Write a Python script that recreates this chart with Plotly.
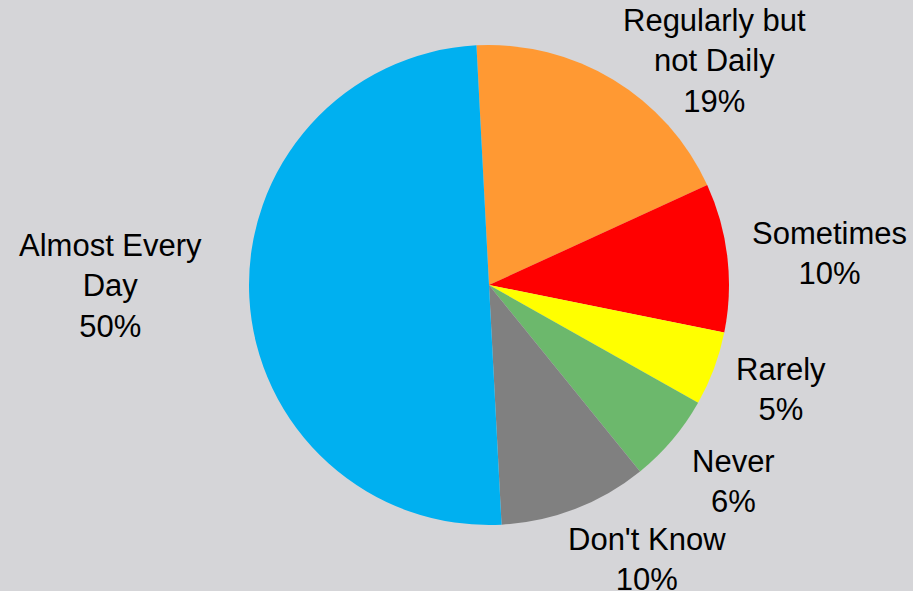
import plotly.graph_objects as go

categories = ["Regularly but not Daily", "Sometimes", "Rarely", "Never", "Don't Know", "Almost Every Day"]
display_labels = ["Regularly but<br>not Daily", "Sometimes", "Rarely", "Never", "Don't Know", "Almost Every<br>Day"]
values = [19, 10, 5, 6, 10, 50]
colors = ["#FF9933", "#FF0000", "#FFFF00", "#6CB86C", "#808080", "#00B0F0"]

# label centres (pixels from top-left), layout only
label_pos = [(714, 61), (829, 253), (781, 389), (733, 481), (647, 559), (110, 286)]

W, H = 913, 591
cx, cy, r = 489, 285, 240
BG = "#D5D5D8"
FONT = dict(family="Liberation Sans, Arial, sans-serif", size=31, color="#000000")

fig = go.Figure(go.Pie(
    labels=categories,
    values=values,
    sort=False,
    direction="clockwise",
    rotation=-3,
    marker=dict(colors=colors, line=dict(width=0)),
    textposition="none",
    domain=dict(x=[(cx - r) / W, (cx + r) / W], y=[(H - cy - r) / H, (H - cy + r) / H]),
    showlegend=False,
    hoverinfo="label+percent",
))

total = sum(values)
for lab, v, (px, py) in zip(display_labels, values, label_pos):
    fig.add_annotation(
        x=px / W, y=1 - py / H, xref="paper", yref="paper",
        text=f"{lab}<br>{round(100 * v / total)}%",
        showarrow=False, xanchor="center", yanchor="middle",
        align="center", font=FONT,
    )

fig.update_layout(
    width=W, height=H,
    margin=dict(l=0, r=0, t=0, b=0),
    paper_bgcolor=BG,
    plot_bgcolor=BG,
    showlegend=False,
)

fig.write_html(
    "out.html",
    config={"displayModeBar": False},
    post_script="document.body.style.margin='0';document.body.style.background='%s';" % BG,
)
